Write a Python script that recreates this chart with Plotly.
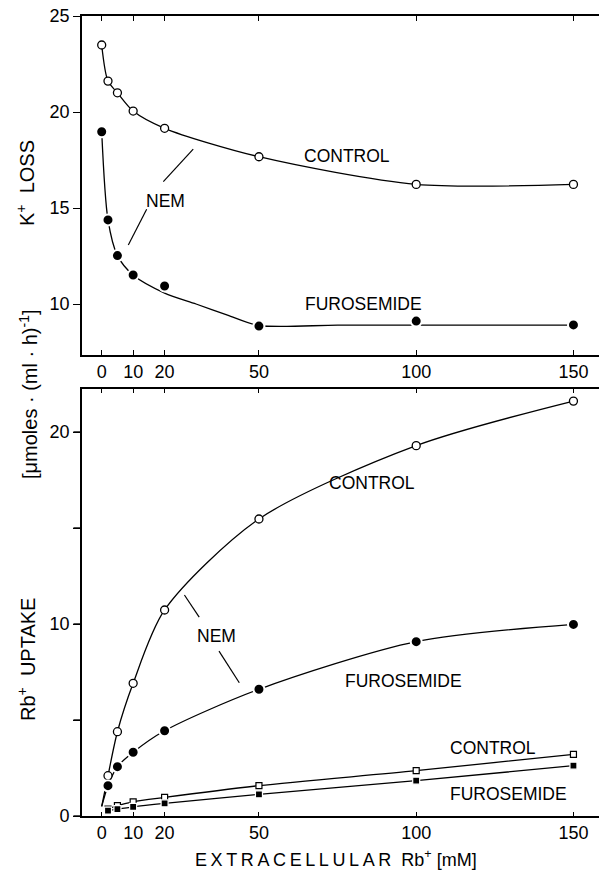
import plotly.graph_objects as go

W, H = 599, 874
FONT = "Liberation Sans, Arial, sans-serif"

# ---- data -------------------------------------------------------------
# K+ loss, upper panel (x = extracellular Rb+, mM)
k_x = [0, 2, 5, 10, 20, 50, 100, 150]
k_loss_control = [23.49, 21.61, 21.0, 20.05, 19.15, 17.67, 16.23, 16.23]
k_loss_furosemide = [18.97, 14.38, 12.52, 11.51, 10.94, 8.85, 9.11, 8.91]
# hand-drawn fit through the furosemide K+ loss points
k_furo_fit_x = [0, 2, 5, 10, 20, 30, 40, 50, 75, 100, 125, 150]
k_furo_fit_y = [18.97, 14.38, 12.52, 11.51, 10.57, 10.0, 9.42, 8.88,
                8.9, 8.9, 8.9, 8.9]

# Rb+ uptake, lower panel
rb_x = [2, 5, 10, 20, 50, 100, 150]
rb_nem_control = [2.10, 4.39, 6.91, 10.73, 15.47, 19.29, 21.61]
rb_nem_furosemide = [1.58, 2.57, 3.32, 4.44, 6.60, 9.08, 9.98]
rb_control = [0.36, 0.54, 0.74, 0.97, 1.58, 2.36, 3.21]
rb_furosemide = [0.28, 0.36, 0.48, 0.66, 1.13, 1.84, 2.62]
# NEM uptake curves are drawn out from near the origin
rb_curve_x0 = 0
rb_curve_y0 = 0.5

x_ticks = [0, 10, 20, 50, 100, 150]
k_ticks = [10, 15, 20, 25]
rb_ticks = [0, 10, 20]
rb_minor_ticks = [5, 15]

# ---- geometry (pixels -> paper) ---------------------------------------
X0_PX = 101.7        # pixel column of Rb+ = 0
PX_PER_MM = 3.145
PX_PER_UNIT = 19.2
Y_AXIS_PX = 82
AXIS_LW = 1.6
TICK_LEN = 7

def fx(p):
    return p / W

def fy(p):
    return 1 - p / H

x_range = [-(X0_PX - Y_AXIS_PX) / PX_PER_MM, (W - X0_PX) / PX_PER_MM]

top_y_top, top_y_bot = 16, 355
top_range = [25 - (top_y_bot - top_y_top) / PX_PER_UNIT, 25]
bot_y_top, bot_y_bot = 389, 816
bot_range = [0, (bot_y_bot - bot_y_top) / PX_PER_UNIT]

line_w = 1.3
open_circle = dict(symbol="circle", size=8, color="white",
                   line=dict(color="black", width=1.3))
filled_circle = dict(symbol="circle", size=11, color="black",
                     line=dict(color="white", width=2))
open_square = dict(symbol="square", size=6, color="white",
                   line=dict(color="black", width=1.2))
filled_square = dict(symbol="square", size=7, color="black",
                     line=dict(color="white", width=1.2))

fig = go.Figure()

def curve(x, y, xa, ya):
    fig.add_trace(go.Scatter(x=x, y=y, mode="lines", xaxis=xa, yaxis=ya,
                             line=dict(color="black", width=line_w,
                                       shape="spline", smoothing=0.8),
                             hoverinfo="skip", showlegend=False))

def points(x, y, marker, xa, ya, name):
    fig.add_trace(go.Scatter(x=x, y=y, mode="markers", xaxis=xa, yaxis=ya,
                             marker=marker, name=name, showlegend=False,
                             cliponaxis=False))

# upper panel: K+ loss
curve(k_x, k_loss_control, "x", "y")
curve(k_furo_fit_x, k_furo_fit_y, "x", "y")
points(k_x, k_loss_control, open_circle, "x", "y", "control")
points(k_x, k_loss_furosemide, filled_circle, "x", "y", "furosemide")

# lower panel: Rb+ uptake
curve([rb_curve_x0] + rb_x, [rb_curve_y0] + rb_nem_control, "x2", "y2")
curve([rb_curve_x0] + rb_x, [rb_curve_y0] + rb_nem_furosemide, "x2", "y2")
curve(rb_x, rb_control, "x2", "y2")
curve(rb_x, rb_furosemide, "x2", "y2")
points(rb_x, rb_nem_control, open_circle, "x2", "y2", "NEM control")
points(rb_x, rb_nem_furosemide, filled_circle, "x2", "y2", "NEM furosemide")
points(rb_x, rb_control, open_square, "x2", "y2", "control")
points(rb_x, rb_furosemide, filled_square, "x2", "y2", "furosemide")

tick_font = dict(family=FONT, size=18, color="black")
axis_common = dict(showline=True, linecolor="black", linewidth=AXIS_LW,
                   showgrid=False, zeroline=False, tickcolor="black",
                   tickwidth=1.4, tickfont=tick_font, fixedrange=True)

fig.update_layout(
    width=W, height=H,
    margin=dict(l=0, r=0, t=0, b=0, pad=0, autoexpand=False),
    paper_bgcolor="white", plot_bgcolor="rgba(0,0,0,0)",
    showlegend=False,
    # upper panel: K+ loss
    xaxis=dict(domain=[fx(Y_AXIS_PX), 1], range=x_range, anchor="y",
               side="bottom", mirror="ticks", ticks="inside", ticklen=5,
               tickvals=x_ticks, **axis_common),
    yaxis=dict(domain=[fy(top_y_bot), fy(top_y_top)], range=top_range,
               anchor="x", ticks="outside", ticklen=TICK_LEN,
               tickvals=k_ticks, **axis_common),
    # lower panel: Rb+ uptake
    xaxis2=dict(domain=[fx(Y_AXIS_PX), 1], range=x_range, anchor="y2",
                mirror="ticks", ticks="inside", ticklen=4, tickvals=x_ticks,
                **axis_common),
    yaxis2=dict(domain=[fy(bot_y_bot), fy(bot_y_top)], range=bot_range,
                anchor="x2", ticks="outside", ticklen=TICK_LEN,
                tickvals=rb_ticks,
                minor=dict(tickvals=rb_minor_ticks, ticks="outside",
                           ticklen=TICK_LEN, tickwidth=1.4,
                           tickcolor="black", showgrid=False),
                **axis_common),
)

# spine and tick marks of the Rb+ uptake scale, placed on the y2 scale
spine_x = fx(Y_AXIS_PX - AXIS_LW / 2)
fig.add_shape(type="line", xref="paper", yref="y2",
              x0=spine_x, x1=spine_x, y0=bot_range[0], y1=bot_range[1],
              line=dict(color="black", width=AXIS_LW))
for v in sorted(rb_ticks + rb_minor_ticks):
    fig.add_shape(type="line", xref="paper", yref="y2",
                  x0=fx(Y_AXIS_PX - AXIS_LW - TICK_LEN), x1=spine_x,
                  y0=v, y1=v, line=dict(color="black", width=1.4))

label_font = dict(family=FONT, size=17.5, color="black")

def label(text, x, y, xref, yref):
    fig.add_annotation(text=text, x=x, y=y, xref=xref, yref=yref,
                       showarrow=False, font=label_font,
                       xanchor="center", yanchor="middle")

# curve labels, upper panel
label("CONTROL", 78.0, 17.71, "x", "y")
label("FUROSEMIDE", 83.1, 10.0, "x", "y")
label("NEM", 20.4, 15.36, "x", "y")
# curve labels, lower panel
label("CONTROL", 86.0, 17.34, "x2", "y2")
label("NEM", 36.6, 9.39, "x2", "y2")
label("FUROSEMIDE", 96.0, 7.03, "x2", "y2")
label("CONTROL", 124.3, 3.54, "x2", "y2")
label("FUROSEMIDE", 129.4, 1.15, "x2", "y2")

# NEM leader lines (data units of each panel)
leaders = [
    ("x", "y", 19.6, 16.37, 29.1, 18.07),
    ("x", "y", 14.3, 14.93, 8.46, 13.07),
    ("x2", "y2", 26.3, 11.51, 31.0, 10.36),
    ("x2", "y2", 37.3, 8.59, 43.75, 6.94),
]
for xr, yr, xa0, ya0, xa1, ya1 in leaders:
    fig.add_shape(type="line", xref=xr, yref=yr, x0=xa0, y0=ya0,
                  x1=xa1, y1=ya1, line=dict(color="black", width=1.2))

# axis titles
title_font = dict(family=FONT, size=20, color="black")
titles = [
    ("K<sup>+</sup>  LOSS", 26, 183),
    ("[\u03bcmoles \u00b7 (ml \u00b7 h)<sup>-1</sup>]", 28, 394),
    ("Rb<sup>+</sup>  UPTAKE", 26, 660),
]
for text, px, py in titles:
    fig.add_annotation(text=text, x=fx(px), y=fy(py), xref="paper",
                       yref="paper", showarrow=False, textangle=-90,
                       font=title_font, xanchor="center", yanchor="middle")

thin = "\u2009"
fig.add_annotation(text=thin.join("EXTRACELLULAR") + "  Rb<sup>+</sup> [mM]",
                   x=fx(336), y=fy(858), xref="paper", yref="paper",
                   showarrow=False, font=dict(family=FONT, size=18, color="black"),
                   xanchor="center", yanchor="middle")

fig.write_html("out.html")
